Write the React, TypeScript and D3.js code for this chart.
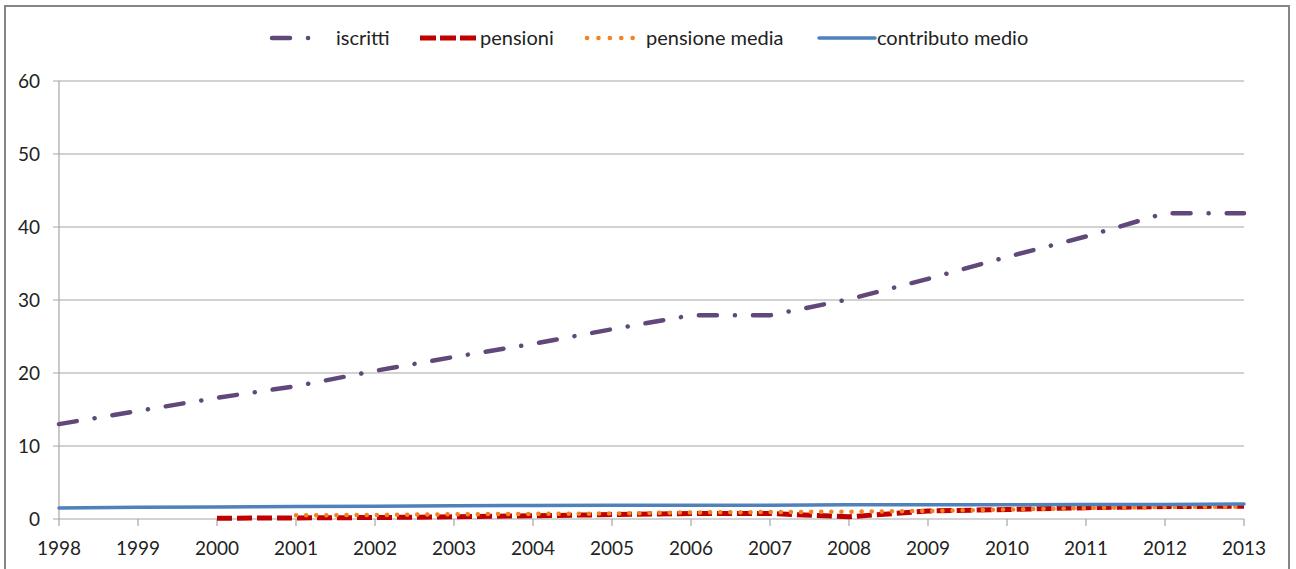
import React from "react";
import * as d3 from "d3";

const years = [1998, 1999, 2000, 2001, 2002, 2003, 2004, 2005, 2006, 2007, 2008, 2009, 2010, 2011, 2012, 2013];
const iscritti = [13, 14.8, 16.6, 18.2, 20.3, 22.2, 24, 26, 27.9, 27.9, 30.1, 32.9, 35.9, 38.7, 41.9, 41.9];
const pensioni: (number | null)[] = [null, null, 0.1, 0.15, 0.2, 0.3, 0.45, 0.6, 0.75, 0.75, 0.3, 1.1, 1.3, 1.55, 1.7, 1.75];
const pensioneMedia: (number | null)[] = [null, null, null, 0.5, 0.55, 0.65, 0.7, 0.75, 0.9, 0.95, 1.0, 1.1, 1.3, 1.5, 1.65, 1.7];
const contributoMedio = [1.5, 1.6, 1.65, 1.7, 1.75, 1.8, 1.85, 1.9, 1.9, 1.9, 1.95, 1.95, 1.95, 2.0, 2.0, 2.05];
const yTicks = [0, 10, 20, 30, 40, 50, 60];

const seriesDefs = [
  { name: "iscritti", values: iscritti, color: "#60497A", width: 4.5, dash: "18 18 0.1 18", cap: "round" },
  { name: "pensioni", values: pensioni, color: "#C00000", width: 5, dash: "15 5", cap: "butt" },
  { name: "pensione media", values: pensioneMedia, color: "#F58220", width: 4.5, dash: "0.1 10", cap: "round" },
  { name: "contributo medio", values: contributoMedio, color: "#4F81BD", width: 3.5, dash: null, cap: "round" },
];

export default function App() {
  const W = 1296, H = 569;
  const x = d3.scaleLinear().domain([1998, 2013]).range([59, 1244]);
  const y = d3.scaleLinear().domain([0, 60]).range([519, 81]);
  const font = "Lato, 'Open Sans', sans-serif";
  const textColor = "#222";

  const legendItems = [
    { sx: 272, tx: 336 },
    { sx: 420, tx: 480 },
    { sx: 587, tx: 646 },
    { sx: 819, tx: 877 },
  ];

  return (
    <svg width={W} height={H} style={{ position: "absolute", left: 0, top: 0, background: "#fff" }}>
      <rect x={5} y={6} width={1284} height={620} fill="#fff" stroke="#868686" strokeWidth={2} />
      {yTicks.map((t) => (
        <g key={t}>
          <line x1={53} x2={1244} y1={y(t)} y2={y(t)} stroke="#A6A6A6" strokeWidth={1.2} />
          <text x={40} y={y(t)} dy="0.36em" textAnchor="end" fontFamily={font} fontSize={19} fill={textColor}>{t}</text>
        </g>
      ))}
      <line x1={59} x2={59} y1={y(60)} y2={y(0)} stroke="#A6A6A6" strokeWidth={1.2} />
      {years.map((yr) => (
        <g key={yr}>
          <line x1={x(yr)} x2={x(yr)} y1={519} y2={526} stroke="#A6A6A6" strokeWidth={1.2} />
          <text x={x(yr)} y={548} dy="0.36em" textAnchor="middle" fontFamily={font} fontSize={19} fill={textColor}>{yr}</text>
        </g>
      ))}
      {seriesDefs.map((s) => {
        const line = d3
          .line<number | null>()
          .defined((v) => v !== null)
          .x((_, i) => x(years[i]))
          .y((v) => y(v as number));
        return (
          <path
            key={s.name}
            d={line(s.values as (number | null)[]) || ""}
            fill="none"
            stroke={s.color}
            strokeWidth={s.width}
            strokeDasharray={s.dash || undefined}
            strokeLinecap={s.cap as any}
            strokeLinejoin="round"
          />
        );
      })}
      {seriesDefs.map((s, i) => {
        const it = legendItems[i];
        const len = 56;
        let dash = s.dash || undefined;
        if (s.name === "iscritti") dash = "18 18 0.1 40";
        if (s.name === "pensioni") dash = "16 4";
        if (s.name === "pensione media") dash = "0.1 11.3";
        return (
          <g key={s.name}>
            <line x1={it.sx} x2={it.sx + len} y1={38} y2={38} stroke={s.color} strokeWidth={s.width}
              strokeDasharray={dash} strokeLinecap={s.cap as any} />
            <text x={it.tx} y={38} dy="0.36em" fontFamily={font} fontSize={20} fill={textColor}>{s.name}</text>
          </g>
        );
      })}
    </svg>
  );
}
